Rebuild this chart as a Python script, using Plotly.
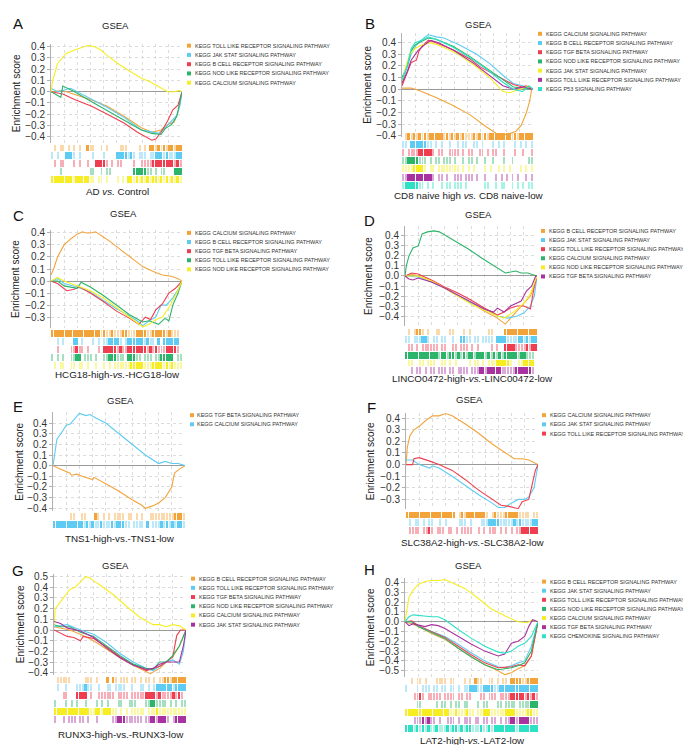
import plotly.graph_objects as go

# ---------------- DATA ----------------
# Panel A  (AD vs. Control)
A_NAMES = ["KEGG TOLL LIKE RECEPTOR SIGNALING PATHWAY", "KEGG JAK STAT SIGNALING PATHWAY",
           "KEGG B CELL RECEPTOR SIGNALING PATHWAY", "KEGG NOD LIKE RECEPTOR SIGNALING PATHWAY",
           "KEGG CALCIUM SIGNALING PATHWAY"]
A_TOLL = [(0,0),(0.09,0.01),(0.17,-0.02),(0.3,-0.07),(0.43,-0.13),(0.56,-0.22),(0.69,-0.32),(0.77,-0.36),(0.84,-0.34),(0.89,-0.29),(0.94,-0.27),(0.97,-0.18),(1,0)]
A_JAK = [(0,0.03),(0.05,0.0),(0.15,0.03),(0.2,0.0),(0.31,-0.07),(0.43,-0.14),(0.56,-0.23),(0.69,-0.34),(0.74,-0.35),(0.82,-0.37),(0.87,-0.32),(0.92,-0.26),(0.96,-0.21),(0.985,-0.12),(1,0)]
A_BCELL = [(0,0),(0.09,-0.02),(0.18,-0.07),(0.31,-0.13),(0.43,-0.2),(0.56,-0.28),(0.66,-0.36),(0.74,-0.41),(0.77,-0.43),(0.8,-0.42),(0.84,-0.36),(0.89,-0.26),(0.93,-0.16),(0.97,-0.12),(1,0)]
A_NOD = [(0,0),(0.075,-0.05),(0.09,0.05),(0.18,0.0),(0.31,-0.09),(0.43,-0.17),(0.56,-0.26),(0.69,-0.34),(0.77,-0.37),(0.84,-0.38),(0.87,-0.33),(0.92,-0.29),(0.96,-0.22),(1,0)]
A_CALCIUM = [(0,0),(0.013,0.1),(0.05,0.25),(0.115,0.34),(0.18,0.37),(0.23,0.39),(0.28,0.41),(0.33,0.40),(0.38,0.37),(0.43,0.32),(0.51,0.25),(0.59,0.19),(0.69,0.12),(0.77,0.08),(0.84,0.03),(0.89,0.0),(0.94,0.0),(0.98,0.01),(1,0)]
A_RUG = ["010110101010021100101000011100001010221212122122",
         "101002221010000100010000222212101110112221211122",
         "010110001010010022221010110000100111122222222121",
         "000100000000001100101100000000222221101011000222",
         "222222221222221101101000101022121212122121212121"]
A_TICKS = [-0.4, -0.3, -0.2, -0.1, 0.0, 0.1, 0.2, 0.3, 0.4]

# Panel B  (CD8 naive)
B_NAMES = ["KEGG CALCIUM SIGNALING PATHWAY", "KEGG B CELL RECEPTOR SIGNALING PATHWAY",
           "KEGG TGF BETA SIGNALING PATHWAY", "KEGG NOD LIKE RECEPTOR SIGNALING PATHWAY",
           "KEGG JAK STAT SIGNALING PATHWAY", "KEGG TOLL LIKE RECEPTOR SIGNALING PATHWAY",
           "KEGG P53 SIGNALING PATHWAY"]
B_CALCIUM = [(0,0.01),(0.07,0.01),(0.13,-0.01),(0.26,-0.07),(0.39,-0.14),(0.52,-0.22),(0.64,-0.32),(0.72,-0.38),(0.8,-0.39),(0.87,-0.36),(0.91,-0.31),(0.95,-0.2),(0.975,-0.1),(0.99,0),(1,0)]
B_BCELL = [(0,0.05),(0.03,0.15),(0.07,0.3),(0.11,0.38),(0.145,0.42),(0.2,0.47),(0.26,0.45),(0.32,0.44),(0.44,0.38),(0.57,0.3),(0.67,0.22),(0.77,0.12),(0.85,0.05),(0.92,0.03),(0.97,0.02),(1,0)]
B_TGF = [(0,0.03),(0.04,0.15),(0.07,0.23),(0.11,0.25),(0.13,0.33),(0.16,0.38),(0.2,0.42),(0.235,0.41),(0.39,0.34),(0.52,0.26),(0.6,0.19),(0.7,0.13),(0.77,0.09),(0.85,0.04),(0.92,0.02),(0.95,0.03),(1,0)]
B_NOD = [(0,0.1),(0.04,0.2),(0.07,0.33),(0.1,0.38),(0.13,0.4),(0.2,0.44),(0.26,0.43),(0.39,0.37),(0.52,0.28),(0.65,0.18),(0.75,0.1),(0.85,0.02),(0.93,0.01),(1,0)]
B_JAK = [(0,0.05),(0.03,0.2),(0.06,0.3),(0.1,0.35),(0.15,0.38),(0.22,0.4),(0.3,0.37),(0.43,0.3),(0.56,0.2),(0.67,0.1),(0.77,-0.02),(0.82,-0.03),(0.9,0.0),(0.95,0.02),(1,0)]
B_TOLL = [(0,0.05),(0.04,0.15),(0.07,0.25),(0.12,0.33),(0.17,0.38),(0.22,0.42),(0.28,0.4),(0.4,0.33),(0.55,0.22),(0.67,0.12),(0.77,0.03),(0.85,0.0),(0.93,0.02),(1,0)]
B_P53 = [(0,0.08),(0.04,0.2),(0.07,0.35),(0.1,0.4),(0.15,0.42),(0.2,0.45),(0.26,0.43),(0.39,0.36),(0.52,0.27),(0.65,0.17),(0.77,0.06),(0.85,0.0),(0.92,-0.02),(0.97,0.03),(1,0)]
B_RUG = ["012121212122222121212121112121212222222212122222",
         "110222222110101001001011001101000101010001010101",
         "101111222221011001111010110011010110010001001001",
         "112222111010110111010010110100100100010010000011",
         "111122221011011111111010101000101001010100010101",
         "112222222221011010011101110100100010101010100101",
         "122222110101001011011101000000110010110010101011"]
B_TICKS = [-0.4, -0.3, -0.2, -0.1, 0.0, 0.1, 0.2, 0.3, 0.4]

# Panel C  (HCG18)
C_NAMES = ["KEGG CALCIUM SIGNALING PATHWAY", "KEGG B CELL RECEPTOR SIGNALING PATHWAY",
           "KEGG TGF BETA SIGNALING PATHWAY", "KEGG TOLL LIKE RECEPTOR SIGNALING PATHWAY",
           "KEGG NOD LIKE RECEPTOR SIGNALING PATHWAY"]
C_CALCIUM = [(0,0.05),(0.02,0.1),(0.05,0.2),(0.1,0.3),(0.15,0.35),(0.2,0.39),(0.24,0.41),(0.27,0.4),(0.3,0.4),(0.34,0.41),(0.38,0.38),(0.45,0.33),(0.52,0.27),(0.6,0.2),(0.7,0.12),(0.78,0.08),(0.85,0.05),(0.92,0.04),(0.97,0.02),(1,0)]
C_BCELL = [(0,0.0),(0.05,0.02),(0.1,-0.02),(0.2,-0.05),(0.3,-0.09),(0.4,-0.16),(0.5,-0.23),(0.6,-0.29),(0.67,-0.34),(0.7,-0.37),(0.75,-0.33),(0.8,-0.3),(0.84,-0.2),(0.88,-0.2),(0.93,-0.14),(0.97,-0.07),(1,0)]
C_TGF = [(0,0.0),(0.05,-0.02),(0.12,-0.08),(0.17,-0.07),(0.22,-0.05),(0.3,-0.1),(0.4,-0.17),(0.5,-0.25),(0.6,-0.31),(0.67,-0.36),(0.72,-0.3),(0.76,-0.32),(0.8,-0.24),(0.85,-0.19),(0.9,-0.1),(0.95,-0.06),(1,0)]
C_TOLL = [(0,0.0),(0.05,0.0),(0.1,-0.04),(0.2,-0.06),(0.23,-0.01),(0.3,-0.05),(0.4,-0.12),(0.5,-0.2),(0.6,-0.28),(0.7,-0.34),(0.75,-0.33),(0.82,-0.36),(0.87,-0.31),(0.9,-0.33),(0.93,-0.2),(0.97,-0.1),(1,0)]
C_NOD = [(0,0.0),(0.05,0.03),(0.1,0.0),(0.2,-0.04),(0.3,-0.08),(0.4,-0.14),(0.5,-0.22),(0.6,-0.3),(0.7,-0.38),(0.75,-0.36),(0.8,-0.32),(0.85,-0.3),(0.9,-0.22),(0.95,-0.12),(1,0)]
C_RUG = ["222222222222222222121121112211122221122222121110",
         "001010002201000101011222210122222212110202222220",
         "001000011211010001022222121122222221212111222210",
         "101010011220111010011222111022211011101122222011",
         "010110011011010010010101111112222211122221212111"]
C_TICKS = [-0.3, -0.2, -0.1, 0.0, 0.1, 0.2, 0.3, 0.4]

# Panel D  (LINC00472)
D_NAMES = ["KEGG B CELL RECEPTOR SIGNALING PATHWAY", "KEGG JAK STAT SIGNALING PATHWAY",
           "KEGG TOLL LIKE RECEPTOR SIGNALING PATHWAY", "KEGG CALCIUM SIGNALING PATHWAY",
           "KEGG NOD LIKE RECEPTOR SIGNALING PATHWAY", "KEGG TGF BETA SIGNALING PATHWAY"]
D_BCELL = [(0,0.0),(0.05,0.02),(0.1,0.0),(0.2,-0.05),(0.3,-0.12),(0.4,-0.2),(0.5,-0.27),(0.6,-0.35),(0.7,-0.42),(0.76,-0.48),(0.8,-0.42),(0.85,-0.35),(0.9,-0.28),(0.95,-0.2),(0.98,-0.1),(1,0)]
D_JAK = [(0,0.0),(0.1,-0.01),(0.2,-0.06),(0.3,-0.12),(0.4,-0.2),(0.5,-0.27),(0.6,-0.33),(0.7,-0.4),(0.78,-0.42),(0.85,-0.4),(0.9,-0.37),(0.95,-0.3),(0.98,-0.2),(1,0)]
D_TOLL = [(0,0.0),(0.05,0.03),(0.1,0.02),(0.2,-0.04),(0.3,-0.11),(0.4,-0.17),(0.5,-0.24),(0.6,-0.32),(0.7,-0.39),(0.75,-0.36),(0.8,-0.32),(0.85,-0.3),(0.9,-0.3),(0.95,-0.33),(0.98,-0.1),(1,0)]
D_CALCIUM = [(0,0.0),(0.01,0.1),(0.03,0.2),(0.06,0.28),(0.1,0.3),(0.13,0.42),(0.17,0.44),(0.22,0.45),(0.26,0.44),(0.3,0.41),(0.38,0.35),(0.48,0.27),(0.58,0.18),(0.68,0.1),(0.76,0.03),(0.84,0.05),(0.88,0.03),(0.93,0.03),(0.98,0.01),(1,0)]
D_NOD = [(0,0.0),(0.1,0.0),(0.2,-0.05),(0.3,-0.12),(0.4,-0.2),(0.5,-0.28),(0.6,-0.34),(0.7,-0.4),(0.75,-0.42),(0.8,-0.38),(0.85,-0.33),(0.9,-0.27),(0.95,-0.18),(1,0)]
D_TGF = [(0,0.0),(0.03,-0.03),(0.06,-0.04),(0.1,-0.02),(0.2,-0.06),(0.3,-0.12),(0.4,-0.19),(0.5,-0.26),(0.6,-0.33),(0.67,-0.36),(0.7,-0.32),(0.75,-0.36),(0.8,-0.3),(0.88,-0.25),(0.92,-0.15),(0.96,-0.1),(0.99,0.0),(1,0)]
D_RUG = ["010122101001100011000101000000110000222222222222",
         "110111221011011001002211011011110222211112212122",
         "011010111111011001101110101000010100222211112122",
         "222222222222122122121212212221212121222221221110",
         "011001101110011010100001011010111222221001122220",
         "001011010110111011011110111221222221111122222210"]
D_TICKS = [-0.4, -0.3, -0.2, -0.1, 0.0, 0.1, 0.2, 0.3, 0.4]

# Panel E  (TNS1)
E_NAMES = ["KEGG TGF BETA SIGNALING PATHWAY", "KEGG CALCIUM SIGNALING PATHWAY"]
E_TGF = [(0,0),(0.05,-0.03),(0.13,-0.07),(0.14,-0.09),(0.18,-0.08),(0.22,-0.1),(0.3,-0.13),(0.31,-0.11),(0.4,-0.17),(0.5,-0.24),(0.6,-0.32),(0.67,-0.37),(0.7,-0.4),(0.75,-0.38),(0.8,-0.35),(0.85,-0.3),(0.9,-0.2),(0.92,-0.07),(0.96,-0.03),(1,0)]
E_CALCIUM = [(0,0),(0.01,0.1),(0.03,0.25),(0.06,0.3),(0.1,0.38),(0.13,0.39),(0.17,0.45),(0.2,0.49),(0.25,0.47),(0.28,0.48),(0.32,0.45),(0.4,0.4),(0.5,0.3),(0.6,0.2),(0.7,0.1),(0.8,0.02),(0.85,0.04),(0.9,0.02),(0.95,0.02),(1,0)]
E_RUG = ["000000110011000210101011110110101001111111112221",
         "222222222221212112111212221101111020111212121221"]
E_TICKS = [-0.4, -0.3, -0.2, -0.1, 0.0, 0.1, 0.2, 0.3, 0.4]

# Panel F  (SLC38A2)
F_NAMES = ["KEGG CALCIUM SIGNALING PATHWAY", "KEGG JAK STAT SIGNALING PATHWAY",
           "KEGG TOLL LIKE RECEPTOR SIGNALING PATHWAY"]
F_CALCIUM = [(0,0),(0.01,0.15),(0.03,0.25),(0.06,0.3),(0.1,0.33),(0.15,0.38),(0.2,0.42),(0.25,0.42),(0.3,0.44),(0.35,0.42),(0.45,0.35),(0.55,0.27),(0.65,0.18),(0.75,0.1),(0.82,0.05),(0.88,0.05),(0.93,0.04),(1,0)]
F_JAK = [(0,0.04),(0.05,0.04),(0.1,0.0),(0.18,-0.03),(0.2,-0.01),(0.25,-0.03),(0.35,-0.1),(0.45,-0.18),(0.55,-0.26),(0.65,-0.33),(0.7,-0.37),(0.75,-0.37),(0.8,-0.33),(0.85,-0.3),(0.9,-0.3),(0.93,-0.28),(0.97,-0.2),(1,0)]
F_TOLL = [(0,0),(0.05,0.0),(0.06,0.05),(0.1,0.06),(0.18,0.03),(0.25,0.0),(0.35,-0.05),(0.45,-0.13),(0.55,-0.22),(0.65,-0.3),(0.72,-0.35),(0.78,-0.36),(0.85,-0.38),(0.88,-0.32),(0.93,-0.3),(0.95,-0.2),(0.98,-0.05),(1,0)]
F_RUG = ["222222222222222222012122222221012111222221111011",
         "010110101100101000011101000111222211111212111122",
         "011110112101110110101111001010111010101011222222"]
F_TICKS = [-0.3, -0.2, -0.1, 0.0, 0.1, 0.2, 0.3, 0.4]

# Panel G  (RUNX3)
G_NAMES = ["KEGG B CELL RECEPTOR SIGNALING PATHWAY", "KEGG TOLL LIKE RECEPTOR SIGNALING PATHWAY",
           "KEGG TGF BETA SIGNALING PATHWAY", "KEGG NOD LIKE RECEPTOR SIGNALING PATHWAY",
           "KEGG CALCIUM SIGNALING PATHWAY", "KEGG JAK STAT SIGNALING PATHWAY"]
G_BCELL = [(0,0.03),(0.05,0.02),(0.12,0.0),(0.2,-0.04),(0.3,-0.1),(0.4,-0.18),(0.5,-0.26),(0.6,-0.33),(0.68,-0.38),(0.73,-0.41),(0.8,-0.36),(0.85,-0.3),(0.9,-0.25),(0.95,-0.15),(1,0)]
G_TOLL = [(0,0.03),(0.1,0.05),(0.2,0.0),(0.3,-0.04),(0.4,-0.12),(0.5,-0.22),(0.6,-0.3),(0.7,-0.36),(0.75,-0.38),(0.8,-0.34),(0.85,-0.3),(0.9,-0.28),(0.95,-0.32),(0.98,-0.2),(1,0)]
G_TGF = [(0,0.0),(0.05,-0.03),(0.1,-0.06),(0.15,-0.07),(0.2,-0.1),(0.22,-0.06),(0.3,-0.08),(0.4,-0.16),(0.5,-0.25),(0.6,-0.32),(0.7,-0.38),(0.75,-0.36),(0.8,-0.34),(0.85,-0.3),(0.9,-0.25),(0.93,-0.05),(0.96,0.0),(1,0)]
G_NOD = [(0,0.05),(0.05,0.03),(0.12,0.03),(0.2,-0.02),(0.3,-0.06),(0.4,-0.15),(0.5,-0.24),(0.6,-0.32),(0.7,-0.36),(0.75,-0.37),(0.8,-0.3),(0.85,-0.3),(0.9,-0.24),(0.95,-0.15),(1,0)]
G_CALCIUM = [(0,0.05),(0.01,0.2),(0.04,0.25),(0.08,0.32),(0.12,0.38),(0.16,0.4),(0.2,0.45),(0.24,0.5),(0.27,0.49),(0.3,0.46),(0.35,0.42),(0.45,0.33),(0.55,0.22),(0.65,0.12),(0.75,0.05),(0.8,0.05),(0.85,0.03),(0.9,0.05),(0.95,0.04),(1,0)]
G_JAK = [(0,0.08),(0.05,0.06),(0.1,0.02),(0.2,-0.01),(0.3,-0.07),(0.4,-0.17),(0.5,-0.26),(0.6,-0.33),(0.7,-0.37),(0.75,-0.36),(0.8,-0.32),(0.85,-0.3),(0.9,-0.3),(0.95,-0.3),(0.98,-0.15),(1,0)]
G_RUG = ["011111000001110100020210111011010110101122122222",
         "010010001112110010011011110010011010122222212222",
         "000110002222010011111101111011111222212111121210",
         "100010101001000101010001100111000112211110101011",
         "222222222222211221222110101011111011121111111111",
         "100101110110100100000112221111110112212221012222"]
G_TICKS = [-0.4, -0.3, -0.2, -0.1, 0.0, 0.1, 0.2, 0.3, 0.4, 0.5]

# Panel H  (LAT2)
H_NAMES = ["KEGG B CELL RECEPTOR SIGNALING PATHWAY", "KEGG JAK STAT SIGNALING PATHWAY",
           "KEGG TOLL LIKE RECEPTOR SIGNALING PATHWAY", "KEGG NOD LIKE RECEPTOR SIGNALING PATHWAY",
           "KEGG CALCIUM SIGNALING PATHWAY", "KEGG TGF BETA SIGNALING PATHWAY",
           "KEGG CHEMOKINE SIGNALING PATHWAY"]
H_BCELL = [(0,0),(0.05,-0.02),(0.1,-0.05),(0.2,-0.12),(0.3,-0.18),(0.4,-0.27),(0.5,-0.36),(0.6,-0.44),(0.7,-0.5),(0.75,-0.54),(0.8,-0.52),(0.85,-0.48),(0.9,-0.45),(0.95,-0.35),(1,0)]
H_JAK = [(0,0),(0.05,0.0),(0.1,-0.04),(0.2,-0.1),(0.3,-0.15),(0.4,-0.23),(0.5,-0.32),(0.6,-0.4),(0.7,-0.46),(0.75,-0.47),(0.8,-0.45),(0.85,-0.42),(0.9,-0.4),(0.95,-0.25),(1,0)]
H_TOLL = [(0,0),(0.05,0.01),(0.1,-0.04),(0.2,-0.1),(0.3,-0.16),(0.4,-0.25),(0.5,-0.34),(0.6,-0.42),(0.7,-0.47),(0.8,-0.46),(0.85,-0.44),(0.9,-0.45),(0.95,-0.35),(1,0)]
H_NOD = [(0,0),(0.05,0.0),(0.1,-0.05),(0.2,-0.11),(0.3,-0.17),(0.4,-0.27),(0.5,-0.36),(0.6,-0.44),(0.7,-0.49),(0.75,-0.48),(0.8,-0.47),(0.85,-0.45),(0.9,-0.42),(0.95,-0.3),(1,0)]
H_CALCIUM = [(0,0),(0.01,0.1),(0.03,0.25),(0.06,0.32),(0.1,0.38),(0.15,0.41),(0.2,0.42),(0.25,0.42),(0.3,0.43),(0.35,0.4),(0.45,0.34),(0.55,0.24),(0.65,0.13),(0.75,0.06),(0.85,0.0),(0.92,-0.01),(0.96,0.02),(1,0)]
H_TGF = [(0,0),(0.03,-0.04),(0.06,-0.02),(0.1,-0.03),(0.15,-0.05),(0.2,-0.03),(0.25,-0.04),(0.3,-0.07),(0.4,-0.15),(0.5,-0.23),(0.6,-0.3),(0.7,-0.35),(0.75,-0.33),(0.8,-0.22),(0.85,-0.2),(0.9,-0.15),(0.93,-0.05),(0.96,0.02),(1,0)]
H_CHEMOKINE = [(0,0),(0.03,0.05),(0.06,0.07),(0.12,0.06),(0.2,0.05),(0.25,0.05),(0.3,0.02),(0.4,-0.08),(0.5,-0.17),(0.6,-0.25),(0.7,-0.31),(0.75,-0.32),(0.8,-0.3),(0.85,-0.25),(0.9,-0.22),(0.95,-0.15),(0.98,-0.05),(1,0)]
H_RUG = ["001011010001111011000101021100110101102222112222",
         "100010111011011011010112221122221122222222222222",
         "000112101111101111011011000110111011112222212121",
         "000011000001011010110110001011000110111101111222",
         "222222222222222211211121101122211111222211112211",
         "000111212110100111010111011011011010112212222111",
         "222121212112111212212122111211212222222212222222"]
H_TICKS = [-0.5, -0.4, -0.3, -0.2, -0.1, 0.0, 0.1, 0.2, 0.3, 0.4]

# ---------------- STYLE / LAYOUT ----------------
W, H = 691, 745
COL = {"orange": "#F2A43A", "blue": "#5ECBF2", "red": "#EE3E50", "green": "#2DB46B",
       "yellow": "#F6EE22", "purple": "#A8329F", "teal": "#2DE2C4"}
FONT = "Liberation Sans, Arial, Helvetica, sans-serif"

panels = [
    dict(letter="A", lp=(10, 13), tp=(108, 15), x0=43, x1=174, yt=33, yb=133, yr=[-0.453, 0.426],
         rt=134, rb=174, lab="AD <i>vs.</i> Control", laby=182, ylx=8, sqx=181, txx=186, ly0=35, ldy=9.35,
         names=A_NAMES, curves=[A_TOLL, A_JAK, A_BCELL, A_NOD, A_CALCIUM],
         cols=["orange", "blue", "red", "green", "yellow"], rug=A_RUG, ticks=A_TICKS),
    dict(letter="B", lp=(362, 13), tp=(470, 14), x0=394, x1=525, yt=22, yb=127, yr=[-0.4085, 0.485],
         rt=122, rb=180, lab="CD8 naive high <i>vs.</i> CD8 naive-low", laby=186, ylx=360, sqx=532, txx=537,
         ly0=23, ldy=9.3, names=B_NAMES, curves=[B_CALCIUM, B_BCELL, B_TGF, B_NOD, B_JAK, B_TOLL, B_P53],
         cols=["orange", "blue", "red", "green", "yellow", "purple", "teal"], rug=B_RUG, ticks=B_TICKS),
    dict(letter="C", lp=(10, 206), tp=(115, 204), x0=43, x1=174, yt=221, yb=320, yr=[-0.39, 0.425],
         rt=321, rb=362, lab="HCG18-high-<i>vs.</i>-HCG18-low", laby=367, ylx=8, sqx=181, txx=186,
         ly0=224, ldy=9.2, names=C_NAMES, curves=[C_CALCIUM, C_BCELL, C_TGF, C_TOLL, C_NOD],
         cols=["orange", "blue", "red", "green", "yellow"], rug=C_RUG, ticks=C_TICKS),
    dict(letter="D", lp=(362, 211), tp=(470, 205), x0=397, x1=529, yt=217, yb=318, yr=[-0.499, 0.499],
         rt=320, rb=367, lab="LINCO0472-high-<i>vs.</i>-LINC00472-low", laby=371, ylx=361, sqx=535, txx=540,
         ly0=222, ldy=9.2, names=D_NAMES, curves=[D_BCELL, D_JAK, D_TOLL, D_CALCIUM, D_NOD, D_TGF],
         cols=["orange", "blue", "red", "green", "yellow", "purple"], rug=D_RUG, ticks=D_TICKS),
    dict(letter="E", lp=(10, 399), tp=(112, 393), x0=45, x1=177, yt=405, yb=505, yr=[-0.428, 0.502],
         rt=506, rb=523, lab="TNS1-high-vs.-TNS1-low", laby=533, ylx=12, sqx=184, txx=188,
         ly0=408, ldy=9.2, names=E_NAMES, curves=[E_TGF, E_CALCIUM],
         cols=["orange", "blue"], rug=E_RUG, ticks=E_TICKS),
    dict(letter="F", lp=(363, 400), tp=(462, 392), x0=398, x1=530, yt=406, yb=503, yr=[-0.385, 0.443],
         rt=505, rb=529, lab="SLC38A2-high-<i>vs.</i>-SLC38A2-low", laby=537, ylx=362, sqx=536, txx=541,
         ly0=408, ldy=9.3, names=F_NAMES, curves=[F_CALCIUM, F_JAK, F_TOLL],
         cols=["orange", "blue", "red"], rug=F_RUG, ticks=F_TICKS),
    dict(letter="G", lp=(10, 565), tp=(108, 560), x0=46, x1=178, yt=568, yb=670, yr=[-0.419, 0.528],
         rt=671, rb=719, lab="RUNX3-high-vs.-RUNX3-low", laby=730, ylx=12, sqx=185, txx=190,
         ly0=573, ldy=9.3, names=G_NAMES, curves=[G_BCELL, G_TOLL, G_TGF, G_NOD, G_CALCIUM, G_JAK],
         cols=["orange", "blue", "red", "green", "yellow", "purple"], rug=G_RUG, ticks=G_TICKS),
    dict(letter="H", lp=(362, 564), tp=(460, 560), x0=397, x1=530, yt=572, yb=672, yr=[-0.561, 0.45],
         rt=672, rb=728, lab="LAT2-high-<i>vs.</i>-LAT2-low", laby=736, ylx=362, sqx=536, txx=541,
         ly0=576, ldy=9.2, names=H_NAMES,
         curves=[H_BCELL, H_JAK, H_TOLL, H_NOD, H_CALCIUM, H_TGF, H_CHEMOKINE],
         cols=["orange", "blue", "red", "green", "yellow", "purple", "teal"], rug=H_RUG, ticks=H_TICKS),
]


def px(x):
    return x / W


def py(y):
    return 1 - y / H


def rgba(hexc, a):
    h = hexc.lstrip("#")
    r, g, b = int(h[0:2], 16), int(h[2:4], 16), int(h[4:6], 16)
    return f"rgba({r},{g},{b},{a})"


def tlabel(v):
    s = f"{v:.1f}"
    if s == "-0.0":
        s = "0.0"
    return s.replace("-", "\u2212")


fig = go.Figure()
layout = dict(width=W, height=H, margin=dict(l=0, r=0, t=0, b=0), paper_bgcolor="white",
              plot_bgcolor="rgba(0,0,0,0)", showlegend=False, barmode="overlay", bargap=0)
annotations = []
shapes = []

for k, p in enumerate(panels):
    i = 2 * k + 1
    j = 2 * k + 2
    xa = "xaxis" if i == 1 else f"xaxis{i}"
    ya = "yaxis" if i == 1 else f"yaxis{i}"
    xr = "x" if i == 1 else f"x{i}"
    yrf = "y" if i == 1 else f"y{i}"
    layout[xa] = dict(domain=[px(p["x0"]), px(p["x1"])], range=[0, 1], anchor=yrf,
                      showgrid=True, gridcolor="#dcdcdc", griddash="dot", gridwidth=1,
                      tick0=0, dtick=0.1, showticklabels=False, zeroline=False, showline=False, ticks="")
    layout[ya] = dict(domain=[py(p["yb"]), py(p["yt"])], range=p["yr"], anchor=xr,
                      tickvals=p["ticks"], ticktext=[tlabel(v) for v in p["ticks"]],
                      showgrid=True, gridcolor="#dcdcdc", griddash="dot", gridwidth=1,
                      zeroline=True, zerolinecolor="#9a9a9a", zerolinewidth=1.3,
                      showline=True, linecolor="#b0b0b0", linewidth=1,
                      ticks="outside", ticklen=3, tickcolor="#b0b0b0",
                      tickfont=dict(family=FONT, size=10, color="#333333"))
    for curve, c in zip(p["curves"], p["cols"]):
        fig.add_trace(go.Scatter(x=[a for a, _ in curve], y=[b for _, b in curve], mode="lines",
                                 line=dict(color=COL[c], width=1.1), xaxis=xr, yaxis=yrf,
                                 hoverinfo="skip"))
    # rug
    xa2, ya2 = f"xaxis{j}", f"yaxis{j}"
    xr2, yr2 = f"x{j}", f"y{j}"
    n = len(p["rug"])
    layout[xa2] = dict(domain=[px(p["x0"]), px(p["x1"])], range=[0, 1], anchor=yr2, visible=False)
    layout[ya2] = dict(domain=[py(p["rb"]), py(p["rt"])], range=[-n, 0], anchor=xr2, visible=False)
    for r, (pat, c) in enumerate(zip(p["rug"], p["cols"])):
        N = len(pat)
        xs, cs = [], []
        for q, ch in enumerate(pat):
            if ch != "0":
                xs.append((q + 0.5) / N)
                cs.append(rgba(COL[c], 1.0 if ch == "2" else 0.42))
        fig.add_trace(go.Bar(x=xs, y=[0.86] * len(xs), base=[-(r + 1) + 0.07] * len(xs),
                             width=0.7 / N, marker=dict(color=cs, line=dict(width=0)),
                             xaxis=xr2, yaxis=yr2, hoverinfo="skip"))
    # texts
    annotations.append(dict(text=p["letter"], x=px(p["lp"][0]), y=py(p["lp"][1]), xref="paper",
                            yref="paper", showarrow=False, xanchor="center", yanchor="middle",
                            font=dict(family=FONT, size=15, color="#111111")))
    annotations.append(dict(text="GSEA", x=px(p["tp"][0]), y=py(p["tp"][1]), xref="paper",
                            yref="paper", showarrow=False, xanchor="center", yanchor="middle",
                            font=dict(family=FONT, size=9.5, color="#222222")))
    annotations.append(dict(text="Enrichment score", x=px(p["ylx"]), y=py((p["yt"] + p["yb"]) / 2),
                            xref="paper", yref="paper", showarrow=False, textangle=-90,
                            xanchor="center", yanchor="middle",
                            font=dict(family=FONT, size=10, color="#222222")))
    annotations.append(dict(text=p["lab"], x=px((p["x0"] + p["x1"]) / 2 + 1), y=py(p["laby"]),
                            xref="paper", yref="paper", showarrow=False, xanchor="center",
                            yanchor="middle", borderpad=0,
                            font=dict(family=FONT, size=9.8, color="#222222")))
    for r, (nm, c) in enumerate(zip(p["names"], p["cols"])):
        yy = p["ly0"] + r * p["ldy"]
        shapes.append(dict(type="rect", xref="paper", yref="paper",
                           x0=px(p["sqx"] - 2), x1=px(p["sqx"] + 2), y0=py(yy + 2), y1=py(yy - 2),
                           fillcolor=COL[c], line=dict(width=0)))
        annotations.append(dict(text=nm, x=px(p["txx"]), y=py(yy), xref="paper", yref="paper",
                                showarrow=False, xanchor="left", yanchor="middle", borderpad=0,
                                font=dict(family=FONT, size=5.5, color="#333333")))

layout["annotations"] = annotations
layout["shapes"] = shapes
fig.update_layout(**layout)
fig.write_html("out.html")
